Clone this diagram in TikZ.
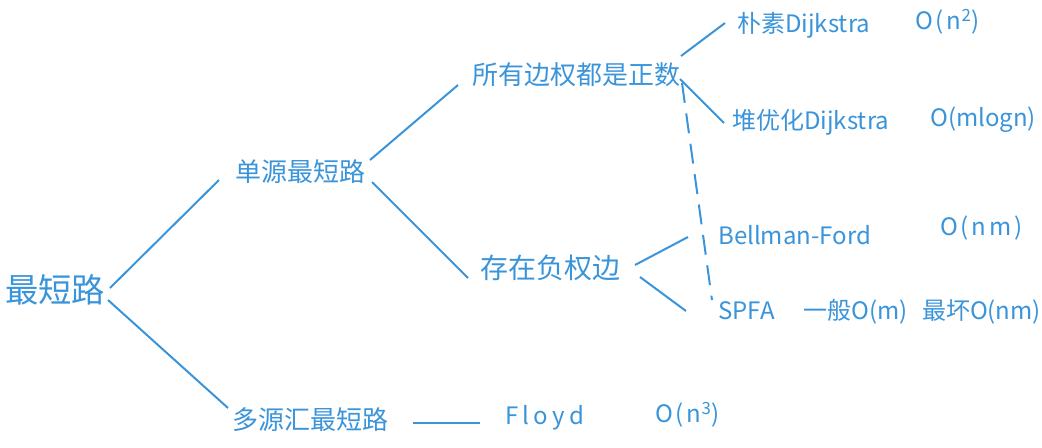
\documentclass[tikz,border=0pt]{standalone}
\usepackage{fontspec}
\newfontfamily\cjk{Noto Sans CJK SC}
\usetikzlibrary{calc}
\definecolor{ink}{RGB}{58,148,218}
\begin{document}
\begin{tikzpicture}[x=0.75pt,y=-0.75pt,
  lbl/.style={anchor=west,inner sep=0pt,text=ink,font=\cjk\fontsize{18}{20}\selectfont},
  spaced/.style={lbl,font=\cjk\fontsize{18}{20}\selectfont\addfontfeature{LetterSpace=12}},
  lvlone/.style={lbl,font=\cjk\fontsize{19.5}{22}\selectfont},
  rootlbl/.style={lbl,font=\cjk\fontsize{25}{28}\selectfont},
  conn/.style={draw=ink,line width=1.5pt},
  dconn/.style={conn,dash pattern=on 15pt off 8pt}]
\useasboundingbox (0,0) rectangle (1042,447);
% nodes
\node[rootlbl] (root) at (5,290) {最短路};
\node[lvlone] (src) at (235,172) {单源最短路};
\node[lvlone] (multi) at (232,420) {多源汇最短路};
\node[lvlone] (pos) at (472,75) {所有边权都是正数};
\node[lvlone,font=\cjk\fontsize{21}{24}\selectfont] (neg) at (480,268) {存在负权边};
\node[lbl] (naive) at (737,25) {朴素Dijkstra};
\node[spaced] (naiveO) at (915,22) {O(n\textsuperscript{2})};
\node[lbl] (heap) at (732,122) {堆优化Dijkstra};
\node[lbl] (heapO) at (930,120) {O(mlogn)};
\node[lbl] (bf) at (718,235) {Bellman-Ford};
\node[spaced] (bfO) at (940,228) {O(nm)};
\node[lbl] (spfa) at (718,312) {SPFA\hspace{1.2em}一般O(m)\hspace{0.6em}最坏O(nm)};
\node[lbl,font=\cjk\fontsize{18}{20}\selectfont\addfontfeature{LetterSpace=18}] (floyd) at (505,418) {Floyd};
\node[spaced] (floydO) at (655,415) {O(n\textsuperscript{3})};
% connectors
\draw[conn] ($(root.west)+(105,-2)$) -- ($(src.west)+(-16,8)$);
\draw[conn] ($(root.west)+(103,10)$) -- ($(multi.west)+(-4,-12)$);
\draw[conn] ($(src.west)+(135,-12)$) -- ($(pos.west)+(-14,10)$);
\draw[conn] ($(src.west)+(137,10)$) -- ($(neg.west)+(-12,10)$);
\draw[conn] ($(pos.west)+(209,-19)$) -- ($(naive.west)+(-12,-2)$);
\draw[conn] ($(pos.west)+(208,4)$) -- ($(heap.west)+(-8,1)$);
\draw[dconn] ($(pos.west)+(210,8)$) -- ($(spfa.west)+(-6,-12)$);
\draw[conn] ($(neg.west)+(155,-3)$) -- ($(bf.west)+(-30,2)$);
\draw[conn] ($(neg.west)+(160,9)$) -- ($(spfa.west)+(-32,-1)$);
\draw[conn] ($(multi.west)+(181,3)$) -- ($(floyd.west)+(-25,5)$);
\end{tikzpicture}
\end{document}
